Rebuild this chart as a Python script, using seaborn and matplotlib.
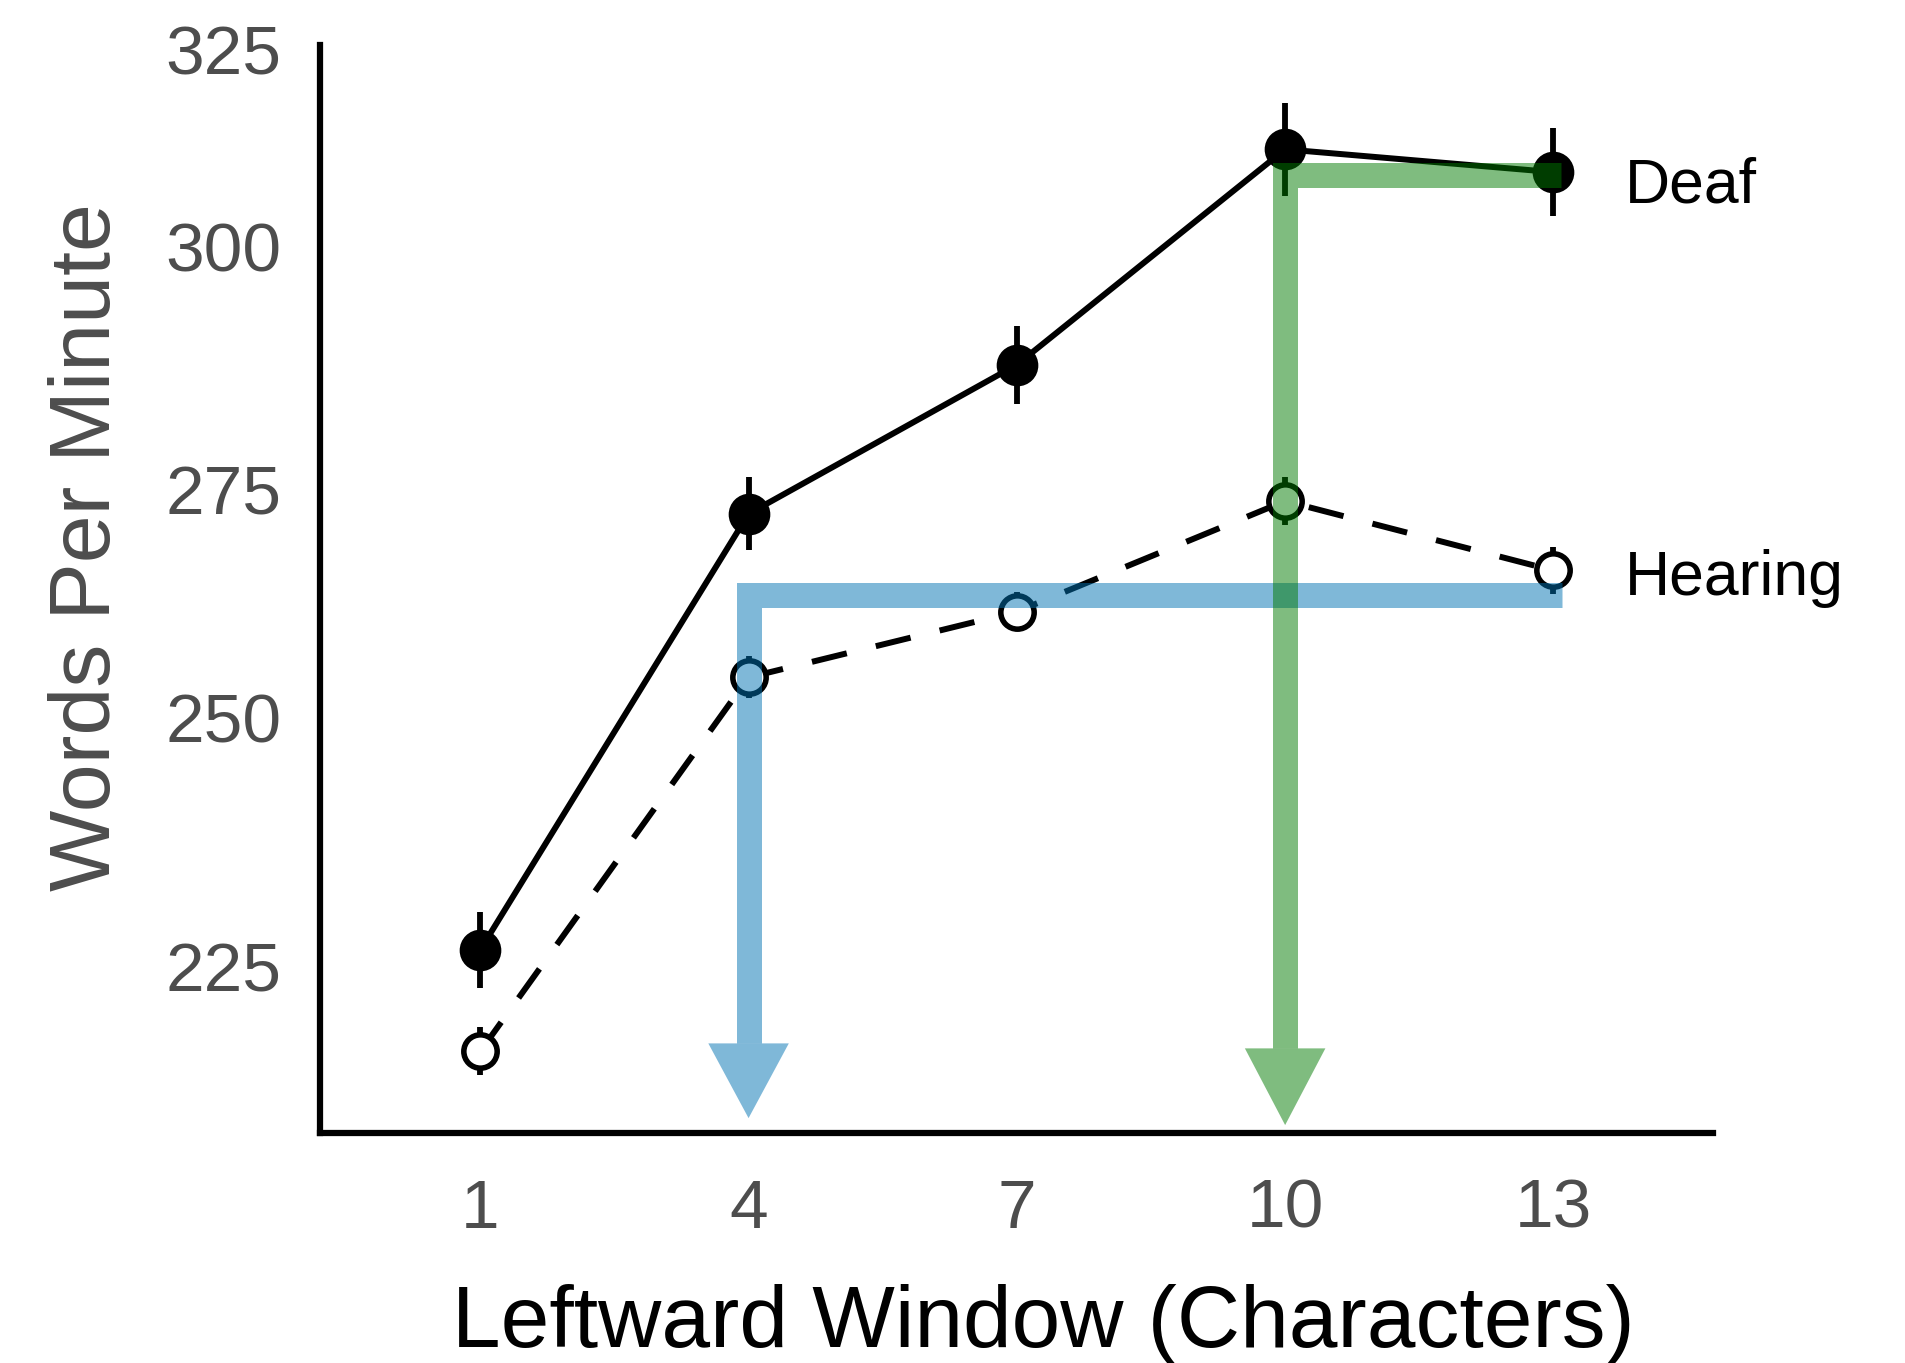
import numpy as np
import pandas as pd
import matplotlib
matplotlib.use("Agg")
import matplotlib.pyplot as plt
import seaborn as sns

# reading speed by leftward window size
window = [1, 4, 7, 10, 13]
deaf_wpm = [226.7, 272.3, 287.8, 312.3, 309.4]
deaf_err = [3.8, 4.0, 4.0, 5.9, 5.6]
hearing_wpm = [216.5, 254.4, 261.6, 273.7, 266.1]
hearing_err = [2.4, 2.3, 2.1, 2.6, 2.6]
group_names = ["Deaf", "Hearing"]
y_ticks = [225, 250, 275, 300, 325]
x_ticks = [1, 4, 7, 10, 13]

# the original y axis is not evenly spaced, map tick values to its spacing
scale_vals = [200, 225, 250, 275, 300, 325, 350]
scale_pos = [-68, 137, 342, 530, 730, 892, 1054]

# arrow annotations (path then arrow tip)
blue_path_x = [13.1, 4, 4]
blue_path_y = [263.4, 263.4, 217.3]
blue_tip = 209.8
green_path_x = [13.08, 10, 10]
green_path_y = [309.0, 309.0, 216.8]
green_tip = 209.1


def fwd(v):
    return np.interp(v, scale_vals, scale_pos)


def inv(p):
    return np.interp(p, scale_pos, scale_vals)


###################################################################
# DrawArrow : thick L shaped band ending in a triangle head
###################################################################
def DrawArrow(ax, xs, ys, tip, color):
    ax.plot(xs, ys, color=color, alpha=0.5, lw=18,
            solid_joinstyle="miter", solid_capstyle="butt", zorder=5)
    x0 = xs[-1]
    base = ys[-1]
    ax.fill([x0 - 0.45, x0 + 0.45, x0], [base, base, tip],
            color=color, alpha=0.5, lw=0, zorder=5)


def main():
    sns.set_theme(style="white")
    plt.rcParams["font.family"] = ["Liberation Sans", "DejaVu Sans"]

    df = pd.DataFrame({
        "group": [group_names[0]] * len(window) + [group_names[1]] * len(window),
        "window": window + window,
        "wpm": deaf_wpm + hearing_wpm,
        "err": deaf_err + hearing_err,
    })
    deaf = df[df["group"] == "Deaf"]
    hearing = df[df["group"] == "Hearing"]

    fig = plt.figure(figsize=(19.06, 13.63), dpi=100)
    ax = fig.add_axes([0.168, 0.1687, 0.731, 0.798])
    ax.set_yscale("function", functions=(fwd, inv))

    # error bars
    ax.errorbar(deaf["window"], deaf["wpm"], yerr=deaf["err"], fmt="none",
                ecolor="black", elinewidth=4.2, capsize=0, zorder=2)
    ax.errorbar(hearing["window"], hearing["wpm"], yerr=hearing["err"], fmt="none",
                ecolor="black", elinewidth=4.2, capsize=0, zorder=2)

    sns.lineplot(data=deaf, x="window", y="wpm", color="black", lw=4.3,
                 marker="o", markersize=30, markeredgecolor="black",
                 markeredgewidth=0, errorbar=None, ax=ax, zorder=3)
    sns.lineplot(data=hearing, x="window", y="wpm", color="black", lw=4.3,
                 linestyle=(0, (6, 5)), marker="o", markersize=24,
                 markerfacecolor="white", markeredgecolor="black",
                 markeredgewidth=4, errorbar=None, ax=ax, zorder=3)

    DrawArrow(ax, blue_path_x, blue_path_y, blue_tip, "#0072B2")
    DrawArrow(ax, green_path_x, green_path_y, green_tip, "#007A00")

    ax.text(13.8, 307.7, "Deaf", fontsize=45, color="black", va="center", ha="left")
    ax.text(13.8, 265.2, "Hearing", fontsize=45, color="black", va="center", ha="left")

    ax.set_xlim(-0.79, 14.79)
    ax.set_ylim(208.3, 325.5)
    ax.set_xticks(x_ticks)
    ax.set_yticks(y_ticks)
    ax.set_yticklabels([str(t) for t in y_ticks])

    ax.set_xlabel("Leftward Window (Characters)", fontsize=63, color="black")
    ax.xaxis.set_label_coords(0.519, -0.139)
    ax.set_ylabel("Words Per Minute", fontsize=62, color="#4D4D4D")
    ax.yaxis.set_label_coords(-0.138, 0.539)

    ax.tick_params(axis="x", length=16, width=3.5, color="#333333",
                   labelsize=50, labelcolor="#4D4D4D", pad=16)
    ax.tick_params(axis="y", length=16, width=3.5, color="black",
                   labelsize=50, labelcolor="#4D4D4D", pad=12)

    sns.despine(ax=ax)
    for side in ["left", "bottom"]:
        ax.spines[side].set_color("black")
        ax.spines[side].set_linewidth(4.5)

    fig.savefig("out.png", dpi=100, facecolor="white")


if __name__ == "__main__":
    main()
